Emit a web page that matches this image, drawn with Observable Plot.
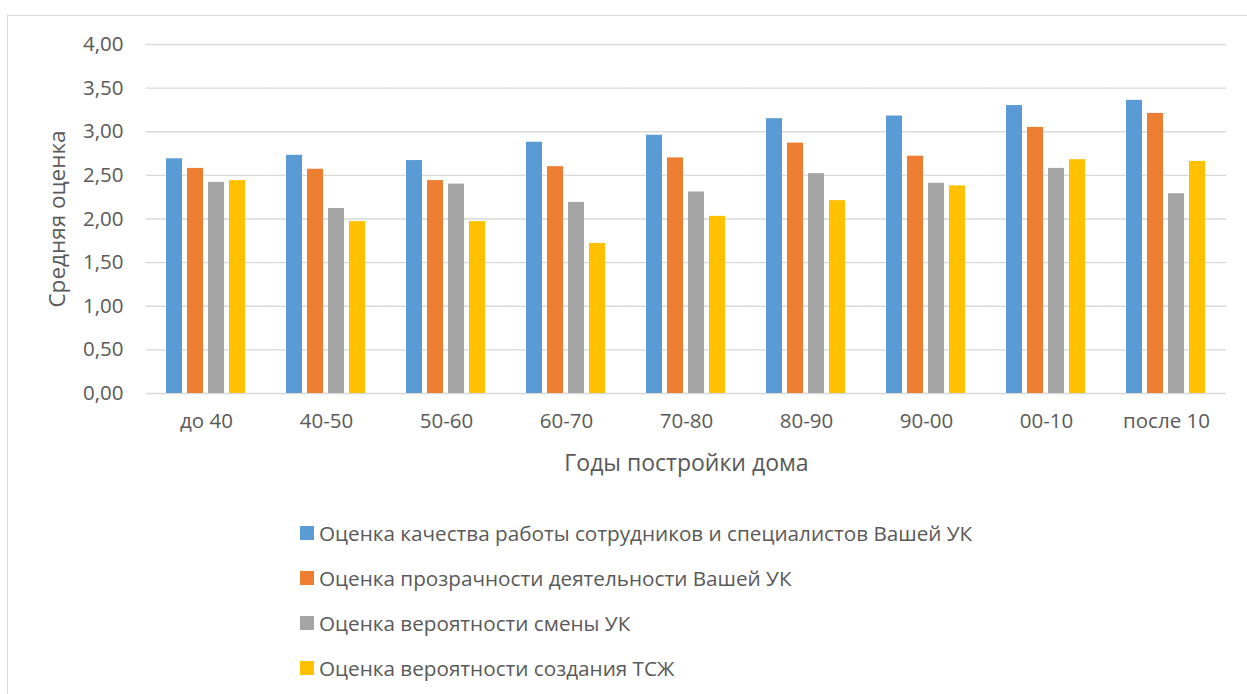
<!DOCTYPE html>
<html lang="ru">
<head>
<meta charset="utf-8">
<script src="https://cdn.jsdelivr.net/npm/d3@7"></script>
<script src="https://cdn.jsdelivr.net/npm/@observablehq/plot@0.6"></script>
<style>
  html, body { margin: 0; padding: 0; background: #ffffff; }
  #wrap { position: relative; width: 1247px; height: 694px; overflow: hidden; font-family: "Open Sans", sans-serif; color: #595959; }
  #frame { position: absolute; left: 7px; top: 15px; width: 1300px; height: 760px; border: 1px solid #d9d9d9; box-sizing: border-box; }
  #chart { position: absolute; left: 0; top: 0; }
  #legend { position: absolute; left: 300px; top: 511px; font-size: 20.7px; }
  .item { display: flex; align-items: center; height: 44.8px; white-space: nowrap; }
  .swatch { width: 14px; height: 14px; margin-right: 5px; flex: none; }
</style>
</head>
<body>
<div id="wrap">
  <div id="frame"></div>
  <div id="chart"></div>
  <div id="legend"></div>
</div>
<script>
// Construction periods of the houses
const categories = ["до 40", "40-50", "50-60", "60-70", "70-80", "80-90", "90-00", "00-10", "после 10"];

// Survey indicators (series)
const seriesNames = [
  "Оценка качества работы сотрудников и специалистов Вашей УК",
  "Оценка прозрачности деятельности Вашей УК",
  "Оценка вероятности смены УК",
  "Оценка вероятности создания ТСЖ"
];
const seriesColors = ["#5b9bd5", "#ed7d31", "#a5a5a5", "#ffc000"];

// Average scores per period
const qualityScores      = [2.69, 2.73, 2.67, 2.88, 2.96, 3.15, 3.18, 3.30, 3.36];
const transparencyScores = [2.58, 2.57, 2.44, 2.60, 2.70, 2.87, 2.72, 3.05, 3.21];
const changeScores       = [2.42, 2.12, 2.40, 2.19, 2.31, 2.52, 2.41, 2.58, 2.29];
const hoaScores          = [2.44, 1.97, 1.97, 1.72, 2.03, 2.21, 2.38, 2.68, 2.66];

const yTicks = [0, 0.5, 1, 1.5, 2, 2.5, 3, 3.5, 4];

const seriesValues = [qualityScores, transparencyScores, changeScores, hoaScores];
const rows = [];
categories.forEach((category, i) => {
  seriesNames.forEach((series, s) => {
    rows.push({category, series, value: seriesValues[s][i]});
  });
});

const fmt = d => d.toFixed(2).replace(".", ",");

const chart = Plot.plot({
  width: 1247,
  height: 480,
  marginLeft: 146,
  marginRight: 21,
  marginTop: 44,
  marginBottom: 87,
  style: {fontFamily: "Open Sans", fontSize: "20.5px", color: "#595959", background: "transparent", overflow: "visible"},
  fx: {domain: categories, paddingInner: 0.32, paddingOuter: 0.16, label: "Годы постройки дома"},
  x: {domain: seriesNames, paddingInner: 0.23, paddingOuter: 0, axis: null},
  y: {domain: [0, 4], label: "Средняя оценка"},
  color: {domain: seriesNames, range: seriesColors},
  marks: [
    // gridlines stretched over the gaps between groups so they run continuously
    Plot.ruleY(yTicks, {stroke: "#d9d9d9", strokeWidth: 1.3, insetLeft: -19.2, insetRight: -19.2}),
    Plot.barY(rows, {fx: "category", x: "series", y: "value", fill: "series"}),
    Plot.axisY(yTicks, {
      tickSize: 0, tickPadding: 42, tickFormat: fmt, fontSize: 20.5, label: null
    }),
    Plot.axisY({
      ticks: [], label: "Средняя оценка", labelAnchor: "center", labelArrow: "none",
      labelOffset: 116, fontSize: 22.5
    }),
    Plot.axisFx({
      anchor: "bottom", tickSize: 0, tickPadding: 20, fontSize: 20.5, label: null
    }),
    Plot.axisFx({
      anchor: "bottom", ticks: [], label: "Годы постройки дома", labelAnchor: "center",
      labelArrow: "none", labelOffset: 77, fontSize: 23
    })
  ]
});
document.getElementById("chart").appendChild(chart);

// Legend: one entry per row
const legend = document.getElementById("legend");
seriesNames.forEach((name, i) => {
  const item = document.createElement("div");
  item.className = "item";
  const sw = document.createElement("span");
  sw.className = "swatch";
  sw.style.background = seriesColors[i];
  const label = document.createElement("span");
  label.textContent = name;
  item.appendChild(sw);
  item.appendChild(label);
  legend.appendChild(item);
});
</script>
</body>
</html>
